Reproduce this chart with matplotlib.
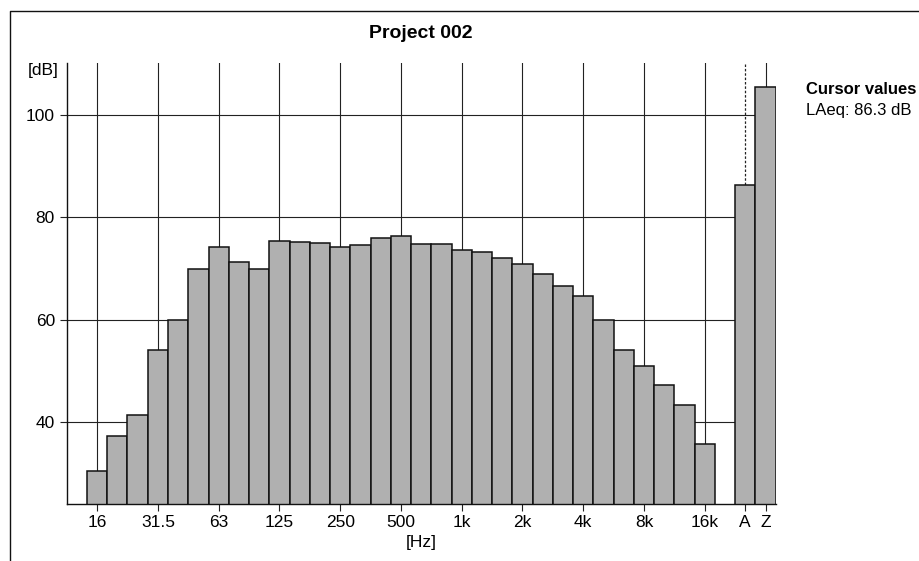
import numpy as np
import matplotlib
matplotlib.use("Agg")
import matplotlib.pyplot as plt
from matplotlib.lines import Line2D

plt.rcParams['font.family'] = ['Liberation Sans', 'DejaVu Sans']

# third octave bands 16 Hz .. 16 kHz, then A and Z totals
bands = ['16', '20', '25', '31.5', '40', '50', '63', '80', '100', '125', '160', '200',
         '250', '315', '400', '500', '630', '800', '1k', '1.25k', '1.6k', '2k', '2.5k',
         '3.15k', '4k', '5k', '6.3k', '8k', '10k', '12.5k', '16k']
levels = [30.3, 37.3, 41.3, 54.1, 60.0, 69.9, 74.2, 71.3, 69.9, 75.4, 75.1, 74.9,
          74.1, 74.5, 75.9, 76.3, 74.7, 74.7, 73.6, 73.2, 72.1, 70.8, 68.9,
          66.6, 64.6, 60.0, 54.0, 51.0, 47.3, 43.2, 35.7]
totals = ['A', 'Z']
total_levels = [86.3, 105.5]
tick_labels = ['16', '31.5', '63', '125', '250', '500', '1k', '2k', '4k', '8k', '16k', 'A', 'Z']
yticks = [40, 60, 80, 100]

fig = plt.figure(figsize=(9.19, 5.61), dpi=100)
ax = fig.add_axes([0.0726, 0.1021, 0.7714, 0.7861])

x = np.arange(len(bands))
xt = np.array([len(bands) + 1, len(bands) + 2])
gray = '#b0b0b0'

# grid first so the bars sit over it
for v in yticks:
    ax.axhline(v, color='#222222', lw=0.8, zorder=1)
for i in x[::3]:
    ax.axvline(i, color='#222222', lw=0.8, zorder=1)
ax.axvline(xt[0], color='#222222', lw=0.9, ls=(0, (2, 1.5)), zorder=1)
ax.axvline(xt[1], color='#222222', lw=0.8, zorder=1)

ax.bar(x, levels, width=1.0, bottom=0, color=gray, edgecolor='#111111', lw=1.1, zorder=2)
ax.bar(xt, total_levels, width=1.0, color=gray, edgecolor='#111111', lw=1.1, zorder=2)

ax.set_xlim(-1.5, xt[1] + 0.5)
ax.set_ylim(24, 110.2)
ax.set_yticks(yticks)
ax.set_xticks(list(x[::3]) + list(xt))
ax.set_xticklabels(tick_labels)
ax.tick_params(axis='both', labelsize=12.5, length=5, width=0.8, direction='out', color='#222222')
ax.tick_params(axis='x', pad=3)
ax.xaxis.get_major_ticks()[11].tick1line.set_linestyle(':')

for s in ['top', 'right']:
    ax.spines[s].set_visible(False)
for s in ['left', 'bottom']:
    ax.spines[s].set_linewidth(1.0)
    ax.spines[s].set_color('#111111')

fig.text(0.458, 1 - 33 / 561, 'Project 002', ha='center', va='center', fontsize=14, fontweight='bold')
fig.text(59 / 919, 1 - 71 / 561, '[dB]', ha='right', va='center', fontsize=12.5)
fig.text(0.458, 1 - 543 / 561, '[Hz]', ha='center', va='center', fontsize=12.5)
fig.text(806 / 919, 1 - 94 / 561, 'Cursor values', ha='left', va='baseline', fontsize=12, fontweight='bold')
fig.text(806 / 919, 1 - 115 / 561, 'LAeq: %.1f dB' % total_levels[0], ha='left', va='baseline', fontsize=12)

# outer frame, cut at the right and bottom
fig.add_artist(Line2D([10 / 919, 10 / 919, 1.0], [0.0, 1 - 10.5 / 561, 1 - 10.5 / 561],
                      transform=fig.transFigure, color='#111111', lw=1.0))

fig.savefig('out.png', dpi=100)
